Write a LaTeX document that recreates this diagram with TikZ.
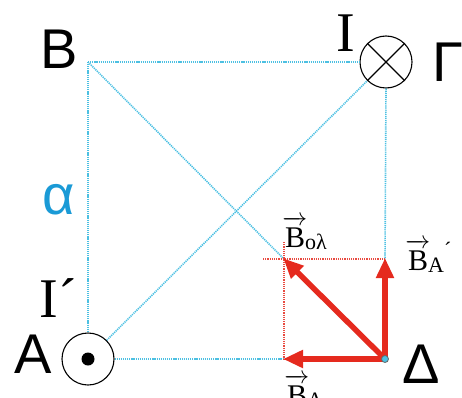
\documentclass[tikz,border=0pt]{standalone}
\usepackage{fontspec}
\setmainfont{Liberation Serif}
\newfontfamily\sfont{Liberation Sans}
\usetikzlibrary{arrows.meta}
\definecolor{lblue}{HTML}{4CC0E2}
\definecolor{ared}{HTML}{E52A1E}
\definecolor{acol}{HTML}{1A9AD6}
\newcommand{\vecB}{\makebox[0pt][l]{\raisebox{0.72em}{\makebox[0.64em]{\rightarrowfill}}}B}
\newcommand{\subt}[1]{\raisebox{-2pt}{\fontsize{22}{24}\selectfont #1}}
\tikzset{
  bl/.style={lblue, line width=1.6pt, dash pattern=on 1.2pt off 0.9pt},
  rd/.style={ared!85, line width=1.2pt, dash pattern=on 1.2pt off 1pt},
  vec/.style={ared, line width=5.5pt, -{Triangle[length=20pt,width=17pt]}, shorten >=-1pt},
  wire/.style={circle, draw, line width=1.1pt, minimum size=52pt, inner sep=0pt},
  big/.style={font=\sfont\fontsize{56}{60}\selectfont, inner sep=0pt},
  ser/.style={font=\fontsize{56}{60}\selectfont, inner sep=0pt},
  vl/.style={font=\fontsize{30}{34}\selectfont, inner sep=0pt, anchor=base west},
}
\begin{document}
\begin{tikzpicture}[x=1pt,y=1pt]
\useasboundingbox (0,0) rectangle (462,397);
% key points
\coordinate (B) at (88,335);
\node[wire] (G) at (386,335) {};
\node[wire] (A) at (88,38) {};
\coordinate (D) at (385,38);
\coordinate (P) at (284,138);
\coordinate (Q) at (385,138);
\coordinate (R) at (284,38);
\coordinate (Pl) at (263,138);
\coordinate (Pu) at (284,155);
% blue dotted frame
\draw[bl] (B) -- (G.west);
\draw[bl] (B) -- (A.north);
\draw[bl] (A.east) -- (R);
\draw[bl] (B) -- (P);
\draw[bl] (A.north east) -- (G.south west);
\draw[bl] (G.south) -- (Q);
% red dotted construction
\draw[rd] (Pl) -- (Q);
\draw[rd] (Pu) -- (R);
% symbols inside circles
\draw[line width=1.1pt] (G.north west) -- (G.south east);
\draw[line width=1.1pt] (G.north east) -- (G.south west);
\fill (A.center) circle (6.5);
% red vectors
\draw[vec] (D) -- (R);
\draw[vec] (D) -- (Q);
\draw[vec] (D) -- (P);
\filldraw[fill=lblue, draw=gray!80!black, line width=0.8pt] (D) circle (3.5);
% labels
\node[big] (lB) at (59,348) {B};
\node[big] (lA) at (33,43) {A};
\node[big] (lG) at (448,335) {Γ};
\node[big] (lD) at (421,33) {Δ};
\node[big, text=acol] (la) at (59,197) {α};
\node[ser] (lI) at (346,364) {I};
\node[ser] (lI2) at (58,99) {I´};
\node[vl] (vo) at (285,150) {\vecB\subt{ολ}};
\node[vl] (va) at (408,127) {\vecB\subt{A}\raisebox{13pt}{\fontsize{22}{24}\selectfont ´}};
\node[vl] (vb) at (287,-8) {\vecB\subt{A}};
\end{tikzpicture}
\end{document}
